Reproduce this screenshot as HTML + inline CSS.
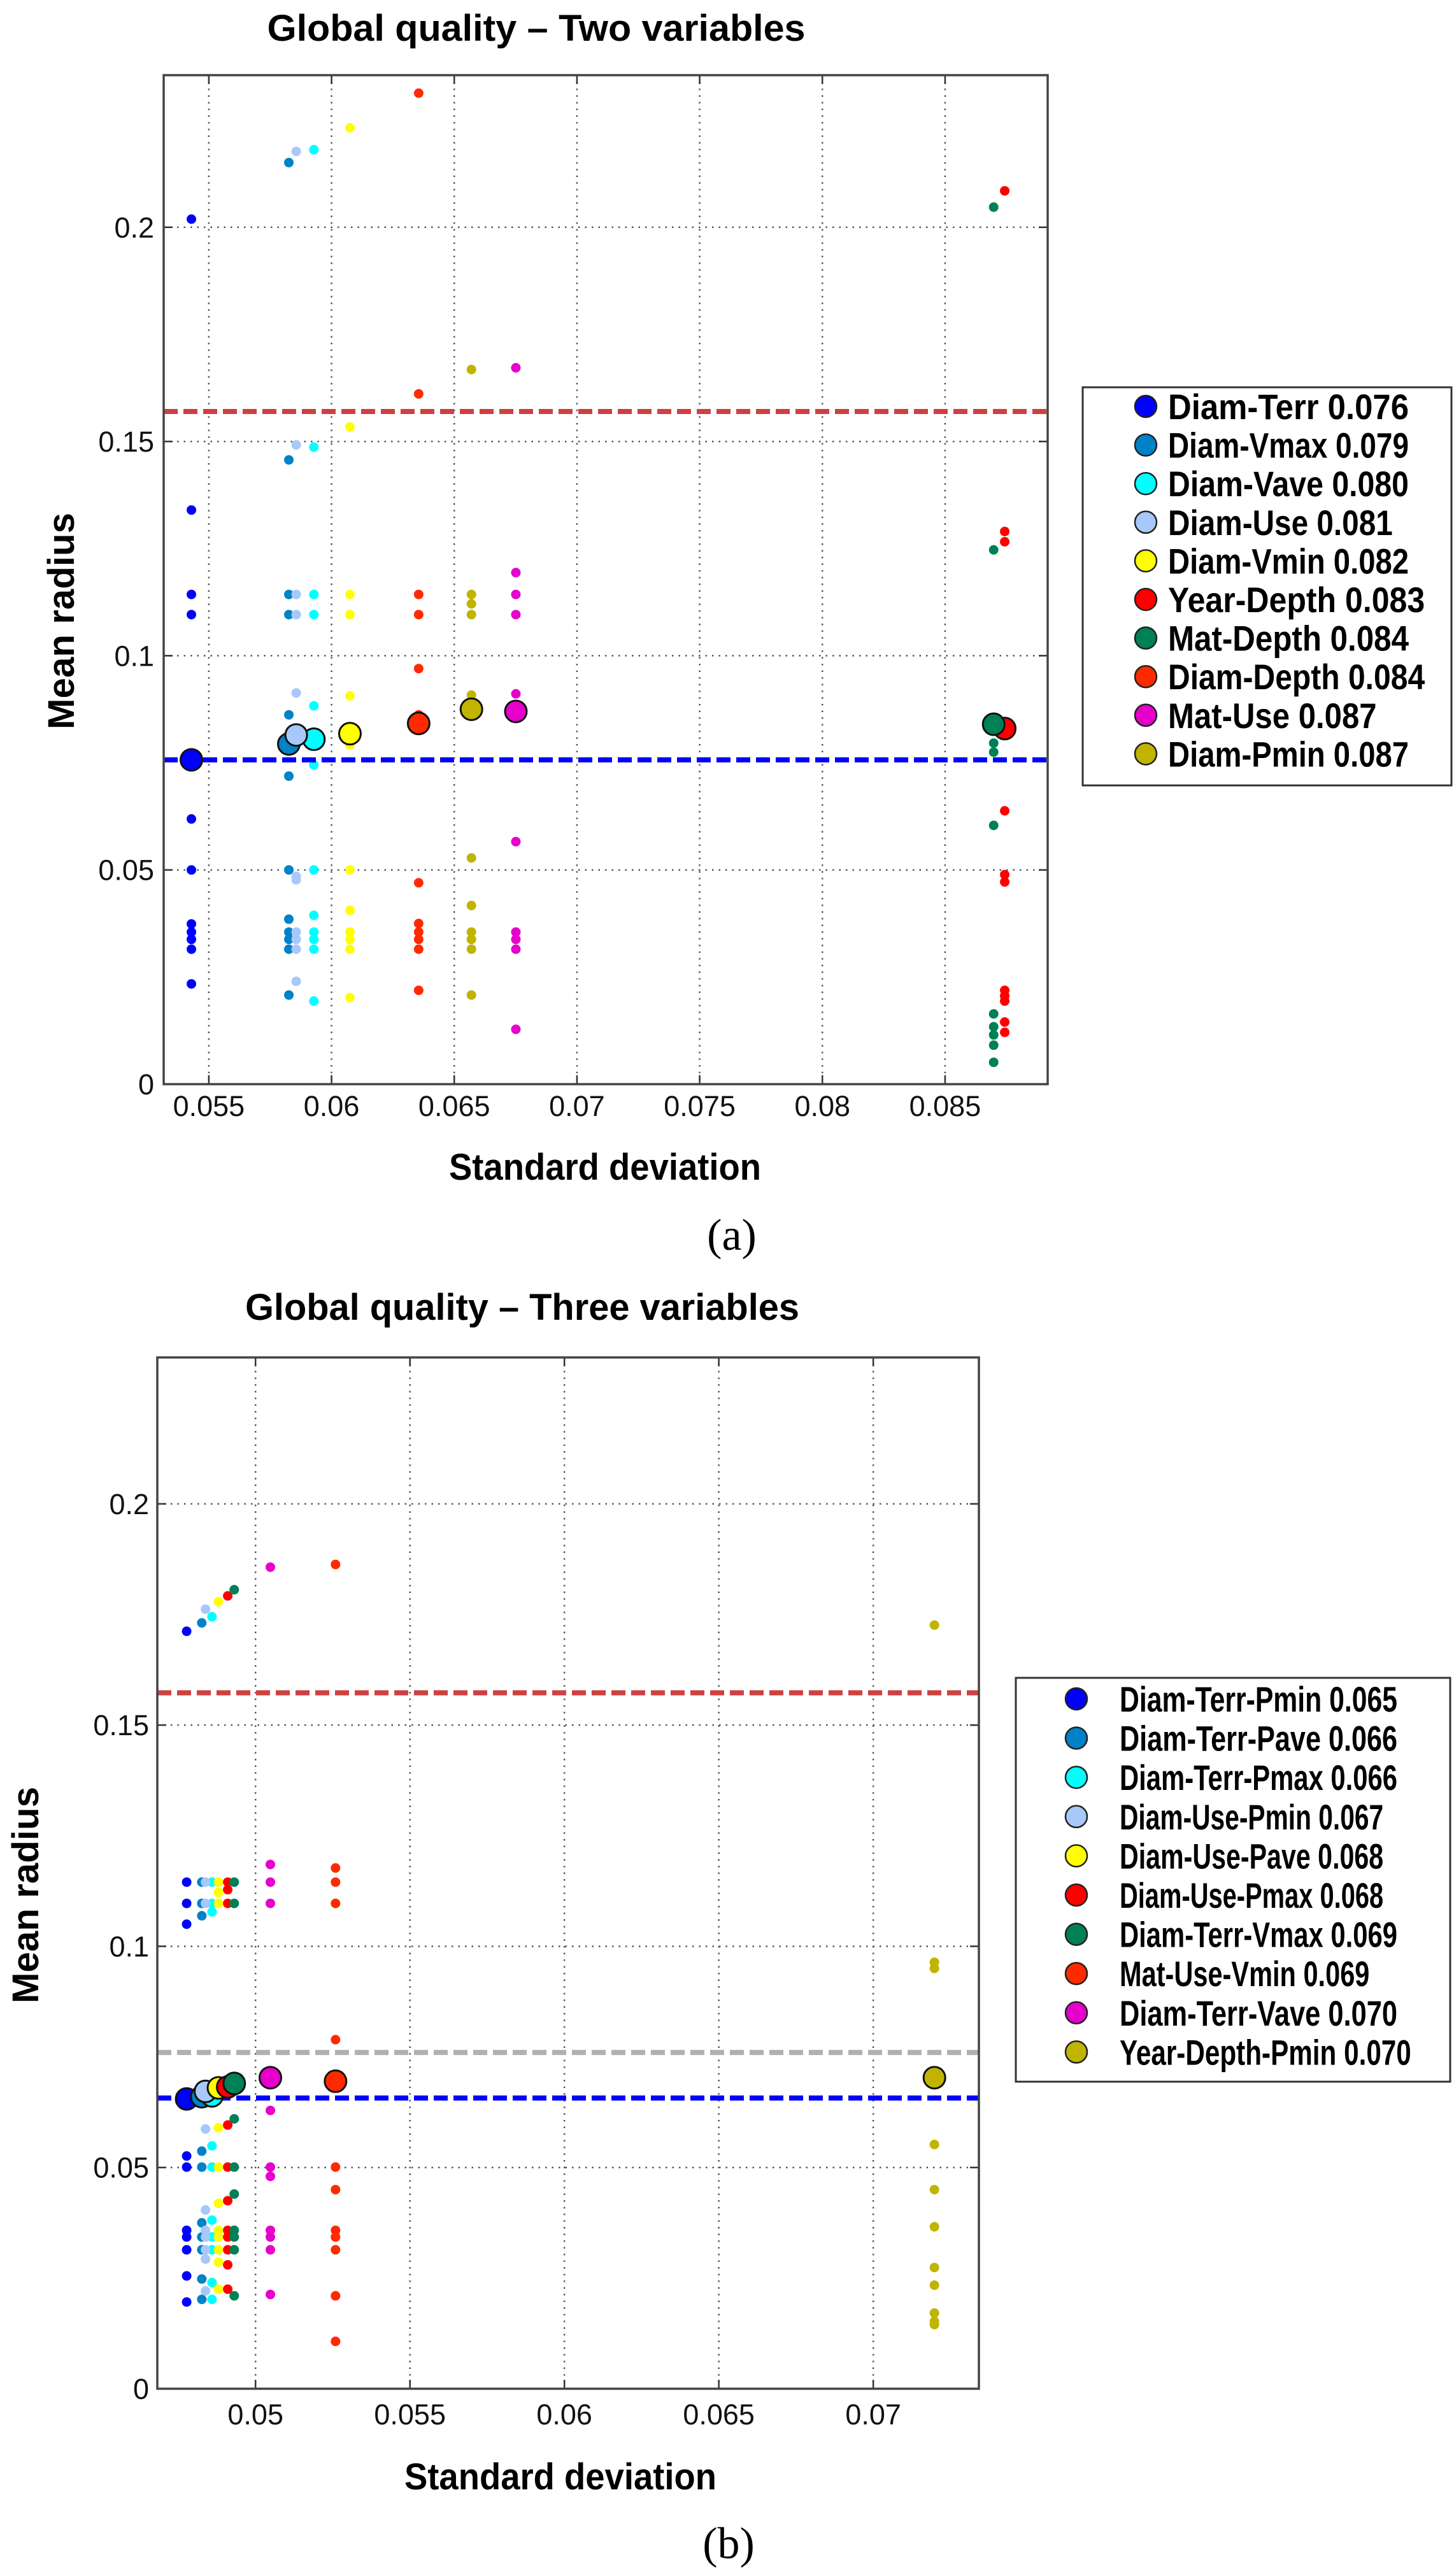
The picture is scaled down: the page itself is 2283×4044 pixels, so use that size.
<!DOCTYPE html>
<html><head><meta charset="utf-8"><style>
html,body{margin:0;padding:0;background:#fff;}
svg{display:block;}
text{font-family:"Liberation Sans",sans-serif;}
.leg{font-family:"Liberation Sans Narrow","Liberation Sans",sans-serif;font-weight:bold;}
.serif{font-family:"Liberation Serif",serif;}
</style></head><body>
<svg id="root" xmlns="http://www.w3.org/2000/svg" width="2283" height="4044" viewBox="0 0 2283 4044"></svg>
<script>
// ---------- Chart A data ----------
const namesA = ["Diam-Terr 0.076","Diam-Vmax 0.079","Diam-Vave 0.080","Diam-Use 0.081","Diam-Vmin 0.082","Year-Depth 0.083","Mat-Depth 0.084","Diam-Depth 0.084","Mat-Use 0.087","Diam-Pmin 0.087"];
const colorsA = ["#0000ff","#0082c8","#00ffff","#a8c8fa","#ffff00","#ff0000","#008055","#ff2a00","#e600cc","#c0b400"];
const sdA = [0.05429,0.05826,0.05928,0.05856,0.06075,0.08743,0.08698,0.06355,0.06751,0.0657];
const meanA = [0.0757,0.0794,0.0805,0.0815,0.0818,0.0830,0.0840,0.0842,0.0870,0.0875];
const dotsA = [
 [0.2019,0.134,0.1143,0.1096,0.0619,0.05,0.0374,0.0355,0.0338,0.0315,0.0234],
 [0.2151,0.1457,0.1143,0.1096,0.0862,0.0719,0.05,0.0385,0.0355,0.0338,0.0315,0.0208],
 [0.2181,0.1487,0.1143,0.1096,0.0883,0.0745,0.05,0.0394,0.0355,0.0338,0.0315,0.0194],
 [0.2177,0.1492,0.1143,0.1096,0.0913,0.0485,0.0477,0.0355,0.0338,0.0315,0.024],
 [0.2232,0.1534,0.1143,0.1096,0.0906,0.0792,0.05,0.0406,0.0355,0.0338,0.0315,0.0202],
 [0.2085,0.129,0.1266,0.0638,0.0489,0.0472,0.0219,0.0206,0.0194,0.0145,0.0121],
 [0.2047,0.1247,0.0796,0.0775,0.0604,0.0164,0.0134,0.0115,0.0091,0.0051],
 [0.2313,0.1611,0.1143,0.1096,0.097,0.0862,0.047,0.0375,0.0355,0.0338,0.0315,0.0219],
 [0.1672,0.1194,0.1143,0.1096,0.0911,0.0566,0.0355,0.0338,0.0315,0.0128],
 [0.1668,0.1143,0.1121,0.1096,0.0908,0.0528,0.0417,0.0355,0.0338,0.0315,0.0208]
];
const xTicksA = [0.055,0.06,0.065,0.07,0.075,0.08,0.085];
const xTickLabelsA = ["0.055","0.06","0.065","0.07","0.075","0.08","0.085"];
const yTicksA = [0,0.05,0.1,0.15,0.2];
const yTickLabelsA = ["0","0.05","0.1","0.15","0.2"];
const refLinesA = [0.157,0.0757];
const refColorsA = ["#d04040","#0000ff"];

// ---------- Chart B data ----------
const namesB = ["Diam-Terr-Pmin 0.065","Diam-Terr-Pave 0.066","Diam-Terr-Pmax 0.066","Diam-Use-Pmin 0.067","Diam-Use-Pave 0.068","Diam-Use-Pmax 0.068","Diam-Terr-Vmax 0.069","Mat-Use-Vmin 0.069","Diam-Terr-Vave 0.070","Year-Depth-Pmin 0.070"];
const colorsB = ["#0000ff","#0082c8","#00ffff","#a8c8fa","#ffff00","#ff0000","#008055","#ff2a00","#e600cc","#c0b400"];
const sdB = [0.04777,0.04826,0.04859,0.04838,0.0488,0.0491,0.04931,0.05259,0.05048,0.07198];
const meanB = [0.0655,0.0660,0.0662,0.0672,0.0680,0.0682,0.0690,0.0695,0.0703,0.0703];
const dotsB = [
 [0.1712,0.1145,0.1097,0.105,0.0526,0.0501,0.0358,0.0343,0.0314,0.0255,0.0196],
 [0.1731,0.1145,0.1097,0.1069,0.0537,0.0501,0.0375,0.0343,0.0314,0.0248,0.0202],
 [0.1745,0.1145,0.1097,0.1078,0.0549,0.0501,0.0381,0.0343,0.0314,0.024,0.0202],
 [0.1762,0.1145,0.1097,0.0587,0.0404,0.0358,0.0343,0.0314,0.0293,0.0221],
 [0.1779,0.1145,0.1122,0.1097,0.059,0.0501,0.0419,0.0358,0.0343,0.0314,0.0286,0.0225],
 [0.1792,0.1145,0.1128,0.1097,0.0596,0.0501,0.0425,0.0358,0.0343,0.0314,0.028,0.0225],
 [0.1806,0.1145,0.1097,0.061,0.0501,0.044,0.0358,0.0343,0.0314,0.021],
 [0.1863,0.1177,0.1145,0.1097,0.0789,0.0501,0.045,0.0358,0.0343,0.0314,0.021,0.0107],
 [0.1857,0.1185,0.1145,0.1097,0.0629,0.0501,0.048,0.0358,0.0343,0.0314,0.0213],
 [0.1726,0.0964,0.095,0.0552,0.045,0.0366,0.0274,0.0234,0.0171,0.0152,0.0145]
];
const xTicksB = [0.05,0.055,0.06,0.065,0.07];
const xTickLabelsB = ["0.05","0.055","0.06","0.065","0.07"];
const yTicksB = [0,0.05,0.1,0.15,0.2];
const yTickLabelsB = ["0","0.05","0.1","0.15","0.2"];
const refLinesB = [0.1573,0.076,0.0657];
const refColorsB = ["#d04040","#b0b0b0","#0000ff"];

const NS = "http://www.w3.org/2000/svg";
const root = document.getElementById('root');
function mk(tag, attrs, parent, txt){
  const e = document.createElementNS(NS, tag);
  for (const k in attrs) e.setAttribute(k, attrs[k]);
  if (txt !== undefined) e.textContent = txt;
  (parent||root).appendChild(e);
  return e;
}

function drawChart(cfg){
  const g = mk('g', {});
  
  
  const L=cfg.box[0], T=cfg.box[1], R=cfg.box[2], B=cfg.box[3];
  const sx = v => L + (v - cfg.xmin) / (cfg.xmax - cfg.xmin) * (R - L);
  const sy = v => B - (v - cfg.ymin) / (cfg.ymax - cfg.ymin) * (B - T);
  cfg.xTicks.forEach((t,i)=>{
    const x = sx(t);
    const gl = mk('line', {x1:x,y1:T,x2:x,y2:B,stroke:'#555','stroke-width':2.5,'stroke-dasharray':'2.5 8'}, g);
    
    
    mk('line', {x1:x,y1:B,x2:x,y2:B-14,stroke:'#333','stroke-width':2.5}, g);
    mk('line', {x1:x,y1:T,x2:x,y2:T+14,stroke:'#333','stroke-width':2.5}, g);
    const tl = mk('text', {x:x,y:cfg.xLabY,'font-size':45,'text-anchor':'middle',fill:'#111'}, g, cfg.xTickLabels[i]);
    
    
  });
  cfg.yTicks.forEach((t,i)=>{
    const y = sy(t);
    if (t>0){
      const gl = mk('line', {x1:L,y1:y,x2:R,y2:y,stroke:'#555','stroke-width':2.5,'stroke-dasharray':'2.5 8'}, g);
      
      
    }
    mk('line', {x1:L,y1:y,x2:L+14,y2:y,stroke:'#333','stroke-width':2.5}, g);
    mk('line', {x1:R,y1:y,x2:R-14,y2:y,stroke:'#333','stroke-width':2.5}, g);
    const tl = mk('text', {x:cfg.yLabX,y:y+16,'font-size':45,'text-anchor':'end',fill:'#111'}, g, cfg.yTickLabels[i]);
    
    
  });
  cfg.dots.forEach((arr,si)=>{
    arr.forEach(v=>{
      const c = mk('circle', {cx:sx(cfg.sd[si]),cy:sy(v),r:7.5,fill:cfg.colors[si]}, g);
      
      
    });
  });
  cfg.refLines.forEach((v,i)=>{
    const l = mk('line', {x1:L,y1:sy(v),x2:R,y2:sy(v),stroke:cfg.refColors[i],'stroke-width':8,'stroke-dasharray':'22 9'}, g);
    
    
  });
  cfg.sd.forEach((s,si)=>{
    const c = mk('circle', {cx:sx(s),cy:sy(cfg.mean[si]),r:17,fill:cfg.colors[si],stroke:'#111','stroke-width':3}, g);
    
    
  });
  const bx = mk('rect', {x:L,y:T,width:R-L,height:B-T,fill:'none',stroke:'#444','stroke-width':3.5}, g);
  
  
  const ti = mk('text', {x:cfg.titleX,y:cfg.titleY,'font-size':58,'text-anchor':'middle',fill:'#000',class:'leg',textLength:cfg.titleW,lengthAdjust:'spacingAndGlyphs'}, g, cfg.title);
  
  
  const xl = mk('text', {x:cfg.xTitleX,y:cfg.xTitleY,'font-size':58,'text-anchor':'middle',fill:'#000',class:'leg',textLength:490,lengthAdjust:'spacingAndGlyphs'}, g, 'Standard deviation');
  
  
  const yl = mk('text', {x:0,y:0,'font-size':58,'text-anchor':'middle',fill:'#000',class:'leg',textLength:340,lengthAdjust:'spacingAndGlyphs',transform:`translate(${cfg.yTitleX},${cfg.yTitleY}) rotate(-90)`}, g, 'Mean radius');
  
  
  const pl = mk('text', {x:cfg.panelX,y:cfg.panelY,'font-size':70,'text-anchor':'middle',fill:'#000',class:'serif'}, g, cfg.panel);
  
  
  const lg = mk('g', {}, g);
  
  
  mk('rect', {x:cfg.leg[0],y:cfg.leg[1],width:cfg.leg[2]-cfg.leg[0],height:cfg.leg[3]-cfg.leg[1],fill:'#fff',stroke:'#333','stroke-width':3}, lg);
  cfg.names.forEach((n,i)=>{
    const y = cfg.legY0 + i*cfg.legDy;
    const e = mk('g', {}, lg);
    
    
    mk('circle', {cx:cfg.legMX,cy:y,r:17,fill:cfg.colors[i],stroke:'#222','stroke-width':2.5}, e);
    mk('text', {x:cfg.legTX,y:y+20,'font-size':56,class:'leg',fill:'#000',textLength:n.length*cfg.charW,lengthAdjust:'spacingAndGlyphs'}, e, n);
  });
}

drawChart({id:'chart-two-variables',box:[257,118,1645,1702],xmin:0.05316,xmax:0.08918,ymin:0,ymax:0.2355,
  xTicks:xTicksA,xTickLabels:xTickLabelsA,yTicks:yTicksA,yTickLabels:yTickLabelsA,xLabY:1752,yLabX:242,
  dots:dotsA,sd:sdA,mean:meanA,colors:colorsA,names:namesA,refLines:refLinesA,refColors:refColorsA,
  title:'Global quality – Two variables',titleW:845,titleX:842,titleY:64,xTitleX:950,xTitleY:1852,yTitleX:116,yTitleY:975,
  panel:'(a)',panelX:1149,panelY:1962,leg:[1700,608,2279,1233],legY0:638,legDy:60.6,legMX:1799,legTX:1834,charW:25.2});

drawChart({id:'chart-three-variables',box:[247,2131,1537,3750],xmin:0.04682,xmax:0.07342,ymin:0,ymax:0.2331,
  xTicks:xTicksB,xTickLabels:xTickLabelsB,yTicks:yTicksB,yTickLabels:yTickLabelsB,xLabY:3806,yLabX:234,
  dots:dotsB,sd:sdB,mean:meanB,colors:colorsB,names:namesB,refLines:refLinesB,refColors:refColorsB,
  title:'Global quality – Three variables',titleW:870,titleX:820,titleY:2072,xTitleX:880,xTitleY:3908,yTitleX:60,yTitleY:2975,
  panel:'(b)',panelX:1144,panelY:4016,leg:[1595,2634,2277,3268],legY0:2667,legDy:61.6,legMX:1690,legTX:1758,charW:21.8});
</script>
</body></html>
